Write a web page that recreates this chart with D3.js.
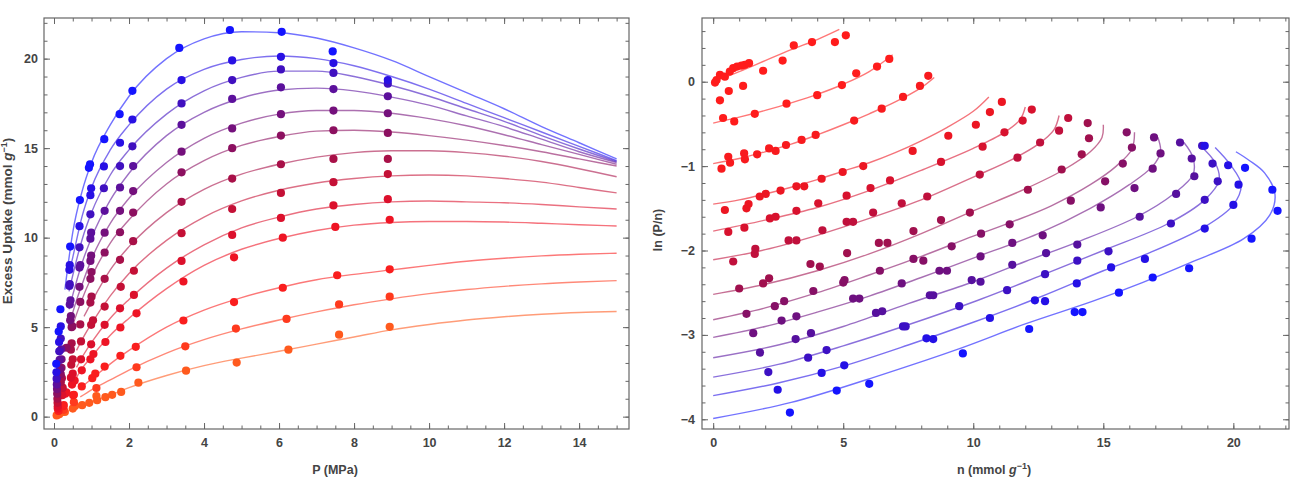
<!DOCTYPE html>
<html>
<head>
<meta charset="utf-8">
<title>Excess uptake isotherms</title>
<script src="https://cdn.jsdelivr.net/npm/d3@7"></script>
<style>
  body { margin: 0; background: #fff; }
  text { font-family: "Liberation Sans", Arial, sans-serif; }
</style>
</head>
<body>
<script>
// series run from the warmest isotherm (k0, lowest uptake) to the coldest (k12)
var dotColorsLeft = ["#ff5a1e","#ff3a1e","#fa1e1e","#ee1424","#dc102c","#c41036","#a81048",
                     "#8c1060","#74107c","#5c109c","#4010c0","#2810e4","#1414ff"];
var dotColorsRight = ["#ff1c1c","#ff1c1c","#f81a1e","#ec1622","#d8122e","#c0103c","#a0104e",
                      "#861066","#6e1080","#56109e","#3c10c4","#2410e6","#1414ff"];

// left panel: fitted curves, [P (MPa), excess uptake (mmol/g)]
var uptakeFits = [
  [[0.65,0.55],[1,0.8],[1.5,1.2],[2,1.62],[3,2.3],[4,2.85],[5,3.27],[6,3.65],[7,4.05],[8,4.45],[9,4.85],[10,5.15],[11,5.4],[12,5.58],[13,5.72],[14,5.82],[15,5.87]],
  [[0.7,1.1],[1,1.5],[1.5,2.05],[2,2.6],[3,3.55],[4,4.3],[5,4.9],[6,5.4],[7,5.85],[8,6.25],[9,6.58],[10,6.87],[11,7.1],[12,7.28],[13,7.42],[14,7.52],[15,7.6]],
  [[0.7,1.6],[1,2.1],[1.5,2.95],[2,3.7],[3,5.0],[4,5.95],[5,6.65],[6,7.2],[7,7.65],[8,7.95],[9,8.2],[10,8.45],[11,8.68],[12,8.85],[13,8.98],[14,9.07],[15,9.13]],
  [[0.6,2.2],[0.75,2.7],[1,3.35],[1.5,4.55],[2,5.5],[3,7.15],[4,8.45],[5,9.35],[6,9.95],[7,10.4],[8,10.7],[9,10.85],[10,10.9],[11,10.9],[12,10.87],[13,10.8],[14,10.72],[15,10.65]],
  [[0.6,2.75],[0.8,3.5],[1,4.15],[1.5,5.5],[2,6.55],[3,8.3],[4,9.6],[5,10.55],[6,11.15],[7,11.6],[8,11.85],[9,12.0],[10,12.05],[11,12.0],[12,11.95],[13,11.85],[14,11.72],[15,11.6]],
  [[0.6,3.7],[0.8,4.5],[1,5.2],[1.5,6.75],[2,8.0],[3,9.85],[4,11.15],[5,12.05],[6,12.65],[7,13.05],[8,13.3],[9,13.45],[10,13.5],[11,13.45],[12,13.3],[13,13.1],[14,12.8],[15,12.5]],
  [[0.8,5.6],[1,6.4],[1.5,8.2],[2,9.5],[3,11.4],[4,12.7],[5,13.55],[6,14.1],[7,14.5],[8,14.75],[9,14.85],[10,14.85],[11,14.75],[12,14.55],[13,14.25],[14,13.85],[15,13.4]],
  [[0.45,4.8],[0.7,6.3],[1,7.8],[1.5,9.7],[2,11.0],[3,13.0],[4,14.3],[5,15.15],[6,15.65],[7,15.95],[8,16.0],[9,15.9],[10,15.7],[11,15.45],[12,15.15],[13,14.8],[14,14.4],[15,14.0]],
  [[0.4,5.1],[0.6,6.5],[0.75,7.4],[1,8.8],[1.5,10.8],[2,12.2],[3,14.2],[4,15.55],[5,16.4],[6,16.9],[7,17.1],[8,17.1],[9,16.95],[10,16.65],[11,16.25],[12,15.75],[13,15.2],[14,14.65],[15,14.1]],
  [[0.4,6.0],[0.5,6.8],[0.75,8.6],[1,10.0],[1.5,12.1],[2,13.6],[3,15.7],[4,17.0],[5,17.8],[6,18.25],[7,18.35],[8,18.2],[9,17.85],[10,17.4],[11,16.8],[12,16.2],[13,15.5],[14,14.8],[15,14.2]],
  [[0.4,7.0],[0.5,7.9],[0.75,9.9],[1,11.4],[1.5,13.5],[2,14.9],[3,16.9],[4,18.2],[5,18.95],[6,19.3],[7,19.3],[8,19.0],[9,18.5],[10,17.9],[11,17.2],[12,16.5],[13,15.7],[14,14.95],[15,14.25]],
  [[0.4,8.0],[0.5,8.9],[0.75,11.2],[1,12.8],[1.5,14.9],[2,16.3],[3,18.3],[4,19.4],[5,19.95],[6,20.15],[7,20.0],[8,19.6],[9,19.0],[10,18.3],[11,17.5],[12,16.7],[13,15.9],[14,15.1],[15,14.3]],
  [[0.29,7.1],[0.5,10.3],[0.75,12.6],[1,14.2],[1.5,16.3],[2,17.9],[3,20.0],[4,21.1],[5,21.5],[6,21.45],[7,21.15],[8,20.6],[9,19.9],[10,19.0],[11,18.1],[12,17.2],[13,16.2],[14,15.3],[15,14.4]]
];

// left panel: measured points, [P, uptake]
var uptakeData = [
  [[0.07,0.07],[0.14,0.13],[0.22,0.26],[0.29,0.26],[0.5,0.45],[0.56,0.6],[0.75,0.64],[0.94,0.77],[1.13,1.15],[1.15,0.92],[1.37,1.09],[1.55,1.22],[1.79,1.38],[2.25,1.9],[3.52,2.57],[4.87,3.02],[6.25,3.74],[7.6,4.58],[8.95,5.02]],
  [[0.26,0.38],[0.53,0.81],[1.13,1.6],[2.2,2.76],[3.5,3.93],[4.85,4.92],[6.2,5.46],[7.6,6.27],[8.95,6.7]],
  [[0.12,0.32],[0.25,0.58],[0.26,0.65],[0.51,1.2],[0.53,1.22],[0.74,1.69],[1.02,2.15],[1.1,2.4],[1.35,2.8],[1.77,3.4],[2.18,3.9],[3.45,5.37],[4.8,6.4],[6.1,7.2],[7.55,7.9],[8.95,8.23]],
  [[0.1,0.45],[0.3,1.28],[0.33,1.36],[0.48,1.79],[0.55,2.02],[0.74,2.59],[0.97,3.2],[1.05,3.5],[1.37,4.17],[1.77,4.98],[2.2,5.77],[3.45,7.55],[4.8,8.9],[6.1,10.0],[7.5,10.6],[8.95,11.0]],
  [[0.1,0.58],[0.22,1.2],[0.45,2.18],[0.5,2.4],[0.72,3.2],[0.99,4.04],[1.35,5.13],[1.76,6.05],[2.13,6.8],[3.4,8.7],[4.75,10.15],[6.05,11.1],[7.45,11.8],[8.9,12.15]],
  [[0.095,0.77],[0.22,1.6],[0.23,1.62],[0.46,2.9],[0.5,3.2],[0.72,4.2],[0.99,5.13],[1.04,5.38],[1.35,6.15],[1.78,7.25],[2.13,8.15],[3.4,10.25],[4.75,11.6],[6.05,12.5],[7.45,13.1],[8.9,13.55]],
  [[0.09,1.0],[0.18,1.92],[0.21,2.15],[0.45,3.74],[0.47,4.1],[0.7,5.15],[0.97,6.37],[1.0,6.7],[1.35,7.7],[1.76,8.76],[2.11,9.8],[3.4,12.0],[4.75,13.3],[6.05,14.1],[7.45,14.4],[8.9,14.4]],
  [[0.085,1.28],[0.18,2.37],[0.2,2.73],[0.33,3.85],[0.47,5.0],[0.49,5.05],[0.7,6.41],[0.97,7.7],[1.0,8.08],[1.35,9.17],[1.76,10.3],[2.11,11.4],[3.4,13.65],[4.75,15.0],[6.05,15.7],[7.45,16.0],[8.9,15.85]],
  [[0.08,1.54],[0.16,2.63],[0.2,3.2],[0.43,5.38],[0.45,5.62],[0.68,7.25],[0.97,8.7],[0.99,8.99],[1.35,10.28],[1.76,11.5],[2.11,12.6],[3.4,14.8],[4.75,16.1],[6.05,16.9],[7.45,17.1],[8.9,16.95]],
  [[0.075,1.8],[0.15,3.17],[0.19,3.76],[0.42,6.26],[0.44,6.5],[0.68,8.33],[0.7,8.46],[0.97,9.94],[0.99,10.28],[1.35,11.5],[1.76,12.8],[2.11,14.0],[3.4,16.3],[4.75,17.75],[6.05,18.4],[7.45,18.3],[8.9,17.9]],
  [[0.07,2.12],[0.14,3.65],[0.18,4.36],[0.41,7.3],[0.42,7.4],[0.68,9.46],[0.97,11.3],[1.33,12.76],[1.76,14.0],[2.09,15.1],[3.4,17.5],[4.75,18.8],[6.05,19.4],[7.45,19.2],[8.9,18.6]],
  [[0.065,2.48],[0.135,4.17],[0.18,5.04],[0.41,8.2],[0.42,8.46],[0.68,10.64],[0.97,12.37],[0.99,12.76],[1.33,13.98],[1.76,15.3],[2.09,16.6],[3.4,18.8],[4.75,19.9],[6.05,20.1],[7.45,19.75],[8.9,18.8]],
  [[0.06,2.95],[0.125,4.75],[0.17,6.0],[0.43,9.5],[0.69,12.1],[0.93,13.9],[0.96,14.1],[1.34,15.5],[1.75,16.9],[2.09,18.2],[3.34,20.6],[4.69,21.6],[6.07,21.5],[7.43,20.4]]
];

// right panel: fitted curves, [n (mmol/g), ln(P/n)]
var lnFits = [
  [[0,0.0],[1,0.12],[2,0.25],[3,0.38],[4,0.5],[4.85,0.62]],
  [[0,-0.49],[1,-0.42],[2,-0.34],[3,-0.25],[4,-0.15],[5,-0.03],[6,0.12],[6.9,0.32]],
  [[0,-0.97],[1,-0.91],[2,-0.83],[3,-0.74],[4,-0.63],[5,-0.51],[6,-0.38],[7,-0.24],[8,-0.07],[8.5,0.05]],
  [[0,-1.45],[1,-1.4],[2,-1.33],[3,-1.25],[4,-1.16],[5,-1.06],[6,-0.96],[7,-0.84],[8,-0.7],[9,-0.54],[10,-0.35],[10.6,-0.18]],
  [[0,-1.77],[2,-1.64],[4,-1.49],[6,-1.29],[8,-1.05],[10,-0.79],[11.2,-0.6],[11.8,-0.45],[12.0,-0.3]],
  [[0,-2.11],[2,-1.99],[4,-1.82],[6,-1.62],[8,-1.4],[10,-1.13],[11.5,-0.92],[12.5,-0.74],[13.1,-0.57],[13.3,-0.4]],
  [[0,-2.52],[2,-2.4],[4,-2.24],[6,-2.04],[8,-1.8],[10,-1.53],[12,-1.27],[13.5,-1.04],[14.5,-0.83],[14.95,-0.66],[15.0,-0.51]],
  [[0,-2.82],[2,-2.68],[4,-2.5],[6,-2.29],[8,-2.07],[10,-1.83],[11.5,-1.66],[13,-1.47],[14.5,-1.22],[15.5,-1.0],[16.1,-0.8],[16.2,-0.6]],
  [[0,-3.03],[2,-2.9],[4,-2.73],[6,-2.54],[8,-2.32],[10,-2.09],[12.5,-1.8],[14.5,-1.5],[16,-1.22],[16.9,-1.0],[17.2,-0.83],[17.1,-0.66]],
  [[0,-3.27],[2.5,-3.12],[5,-2.9],[7.5,-2.63],[10,-2.37],[12,-2.13],[14,-1.9],[16.3,-1.6],[17.7,-1.33],[18.45,-1.1],[18.45,-0.9],[18.1,-0.72]],
  [[0,-3.5],[2.5,-3.35],[5,-3.13],[7.5,-2.88],[10,-2.61],[12.5,-2.31],[15,-2.0],[17.5,-1.68],[18.9,-1.4],[19.45,-1.17],[19.3,-0.96],[18.7,-0.75]],
  [[0,-3.72],[2.5,-3.57],[5,-3.37],[7.5,-3.12],[10,-2.85],[12.5,-2.56],[15,-2.24],[16.6,-2.05],[18.9,-1.72],[20.0,-1.46],[20.3,-1.22],[19.9,-0.99],[19.3,-0.78]],
  [[0,-3.99],[3,-3.8],[6.5,-3.47],[9.5,-3.16],[12,-2.87],[14.6,-2.6],[16.5,-2.38],[18.3,-2.15],[20.4,-1.86],[21.4,-1.58],[21.6,-1.33],[21.2,-1.08],[20.6,-0.93],[20.1,-0.83]]
];

// right panel: measured points, [n, ln(P/n)]
var lnData = [
  [[0.07,-0.01],[0.13,0.02],[0.26,0.08],[0.45,0.06],[0.64,0.12],[0.77,0.16],[0.92,0.18],[1.09,0.19],[1.22,0.2],[1.38,0.22],[0.26,-0.22],[0.6,-0.11],[1.15,-0.05],[1.92,0.13],[2.67,0.25],[3.1,0.43],[3.8,0.47],[4.68,0.47],[5.1,0.55]],
  [[0.38,-0.43],[0.81,-0.47],[1.6,-0.38],[2.82,-0.26],[4.0,-0.16],[4.95,-0.04],[5.5,0.1],[6.3,0.18],[6.77,0.27]],
  [[0.32,-1.03],[0.58,-0.89],[0.65,-0.96],[1.19,-0.85],[1.22,-0.92],[1.69,-0.86],[2.15,-0.79],[2.4,-0.82],[2.8,-0.75],[3.4,-0.69],[3.94,-0.63],[5.42,-0.46],[6.48,-0.32],[7.3,-0.18],[7.95,-0.05],[8.27,0.07]],
  [[0.45,-1.52],[1.28,-1.5],[1.36,-1.45],[1.79,-1.36],[2.02,-1.33],[2.59,-1.29],[3.2,-1.24],[3.5,-1.24],[4.17,-1.15],[4.98,-1.07],[5.77,-1.0],[7.67,-0.82],[9.04,-0.64],[10.1,-0.51],[10.64,-0.36],[11.1,-0.24]],
  [[0.58,-1.78],[1.2,-1.73],[2.18,-1.62],[2.4,-1.6],[3.2,-1.53],[4.04,-1.44],[5.13,-1.35],[6.05,-1.26],[6.8,-1.17],[8.76,-0.95],[10.36,-0.77],[11.2,-0.6],[11.9,-0.46],[12.25,-0.33]],
  [[0.77,-2.13],[1.6,-2.04],[1.62,-1.98],[2.9,-1.88],[3.2,-1.88],[4.2,-1.76],[5.13,-1.66],[5.38,-1.66],[6.15,-1.55],[7.25,-1.44],[8.23,-1.36],[10.25,-1.1],[11.7,-0.9],[12.57,-0.72],[13.3,-0.58],[13.65,-0.43]],
  [[1.0,-2.45],[1.92,-2.39],[2.15,-2.33],[3.74,-2.16],[4.1,-2.19],[5.15,-2.03],[6.37,-1.91],[6.7,-1.91],[7.7,-1.77],[8.76,-1.64],[9.87,-1.55],[12.1,-1.28],[13.4,-1.04],[14.17,-0.86],[14.45,-0.67],[14.4,-0.49]],
  [[1.28,-2.75],[2.37,-2.66],[2.73,-2.6],[3.85,-2.48],[5.0,-2.38],[5.05,-2.35],[6.41,-2.24],[7.7,-2.1],[8.08,-2.12],[9.17,-1.95],[10.3,-1.8],[11.4,-1.69],[13.75,-1.41],[15.07,-1.18],[15.75,-0.97],[16.1,-0.78],[15.9,-0.6]],
  [[1.54,-2.98],[2.63,-2.83],[3.2,-2.78],[5.38,-2.57],[5.62,-2.57],[7.25,-2.39],[8.7,-2.24],[8.99,-2.24],[10.28,-2.07],[11.5,-1.91],[12.67,-1.82],[14.9,-1.49],[16.2,-1.26],[16.9,-1.03],[17.2,-0.85],[16.95,-0.66]],
  [[1.8,-3.21],[3.17,-3.05],[3.76,-2.98],[6.26,-2.74],[6.5,-2.72],[8.33,-2.53],[8.46,-2.53],[9.94,-2.35],[10.28,-2.37],[11.5,-2.17],[12.8,-2.03],[14.0,-1.93],[16.4,-1.6],[17.8,-1.33],[18.5,-1.12],[18.4,-0.91],[17.95,-0.72]],
  [[2.12,-3.44],[3.65,-3.27],[4.36,-3.18],[7.3,-2.9],[7.4,-2.9],[9.46,-2.66],[11.3,-2.47],[12.76,-2.28],[14.0,-2.12],[15.2,-2.01],[17.6,-1.68],[18.9,-1.4],[19.4,-1.18],[19.2,-0.97],[18.8,-0.76]],
  [[2.48,-3.65],[4.17,-3.45],[5.04,-3.36],[8.2,-3.04],[8.46,-3.05],[10.64,-2.8],[12.37,-2.59],[12.76,-2.6],[13.98,-2.39],[15.3,-2.2],[16.6,-2.1],[18.9,-1.74],[20.0,-1.46],[20.2,-1.22],[19.8,-0.99],[18.9,-0.76]],
  [[2.95,-3.92],[4.75,-3.66],[6.0,-3.58],[9.6,-3.22],[12.15,-2.93],[13.9,-2.73],[14.2,-2.73],[15.6,-2.5],[16.9,-2.32],[18.3,-2.21],[20.7,-1.86],[21.7,-1.53],[21.5,-1.28],[20.45,-1.02]]
];

var pTicks = [0, 2, 4, 6, 8, 10, 12, 14];
var uptakeTicks = [0, 5, 10, 15, 20];
var nTicks = [0, 5, 10, 15, 20];
var lnTicks = [0, -1, -2, -3, -4];

var width = 1303, height = 498;
var svg = d3.select("body").append("svg")
    .attr("width", width)
    .attr("height", height);

function framedPanel(x, y, opts) {
  var g = svg.append("g");
  var x0 = x.range()[0], x1 = x.range()[1];
  var y0 = y.range()[1], y1 = y.range()[0];

  function style(sel) {
    sel.select(".domain").remove();
    sel.selectAll(".tick line").attr("stroke", "#666").attr("stroke-width", 1);
    sel.selectAll(".tick text")
      .attr("fill", "#444")
      .attr("font-size", 12.5)
      .attr("font-weight", "bold")
      .attr("font-family", "Liberation Sans, Arial, sans-serif");
  }

  // minor ticks on all four sides, pointing inward
  g.append("g").attr("transform", "translate(0," + y1 + ")")
    .call(d3.axisBottom(x).tickValues(opts.xMinor).tickSize(-3.5).tickFormat("")).call(style);
  g.append("g").attr("transform", "translate(0," + y0 + ")")
    .call(d3.axisTop(x).tickValues(opts.xMinor).tickSize(-3.5).tickFormat("")).call(style);
  g.append("g").attr("transform", "translate(" + x0 + ",0)")
    .call(d3.axisLeft(y).tickValues(opts.yMinor).tickSize(-3.5).tickFormat("")).call(style);
  g.append("g").attr("transform", "translate(" + x1 + ",0)")
    .call(d3.axisRight(y).tickValues(opts.yMinor).tickSize(-3.5).tickFormat("")).call(style);

  // major ticks
  g.append("g").attr("transform", "translate(0," + y1 + ")")
    .call(d3.axisBottom(x).tickValues(opts.xMajor).tickSize(-6).tickPadding(9).tickFormat(d3.format("d"))).call(style);
  g.append("g").attr("transform", "translate(0," + y0 + ")")
    .call(d3.axisTop(x).tickValues(opts.xMajor).tickSize(-6).tickFormat("")).call(style);
  g.append("g").attr("transform", "translate(" + x0 + ",0)")
    .call(d3.axisLeft(y).tickValues(opts.yMajor).tickSize(-6).tickPadding(opts.yPad).tickFormat(d3.format("d"))).call(style);
  g.append("g").attr("transform", "translate(" + x1 + ",0)")
    .call(d3.axisRight(y).tickValues(opts.yMajor).tickSize(-6).tickFormat("")).call(style);

  g.append("rect")
    .attr("x", x0).attr("y", y0)
    .attr("width", x1 - x0).attr("height", y1 - y0)
    .attr("fill", "none")
    .attr("stroke", "#666")
    .attr("stroke-width", 1.2);
  return g;
}

function drawSeries(x, y, fits, data, colors, curve) {
  var line = d3.line()
    .x(function(d) { return x(d[0]); })
    .y(function(d) { return y(d[1]); })
    .curve(curve);

  var lines = svg.append("g");
  fits.forEach(function(f, i) {
    lines.append("path")
      .attr("d", line(f))
      .attr("fill", "none")
      .attr("stroke", colors[i])
      .attr("stroke-opacity", 0.6)
      .attr("stroke-width", 1.4);
  });

  var dots = svg.append("g");
  data.forEach(function(s, i) {
    dots.selectAll(null)
      .data(s)
      .enter()
      .append("circle")
      .attr("cx", function(d) { return x(d[0]); })
      .attr("cy", function(d) { return y(d[1]); })
      .attr("r", 4.1)
      .attr("fill", colors[i]);
  });
}

// ----- left panel: excess uptake vs pressure -----
var xP = d3.scaleLinear().domain([-0.267, 15.33]).range([44, 629]);
var yU = d3.scaleLinear().domain([-0.69, 22.27]).range([429, 18]);

framedPanel(xP, yU, {
  xMajor: pTicks, xMinor: d3.range(0, 15.01, 0.5),
  yMajor: uptakeTicks, yMinor: d3.range(0, 22.01, 1),
  yPad: 6
});
drawSeries(xP, yU, uptakeFits, uptakeData, dotColorsLeft, d3.curveMonotoneX);

svg.append("text")
  .attr("x", 335).attr("y", 474)
  .attr("text-anchor", "middle")
  .attr("font-size", 12.5).attr("font-weight", "bold").attr("fill", "#444")
  .text("P (MPa)");

var yl = svg.append("text")
  .attr("transform", "translate(12,221) rotate(-90)")
  .attr("text-anchor", "middle")
  .attr("font-size", 13.5).attr("font-weight", "bold").attr("fill", "#444");
yl.append("tspan").text("Excess Uptake (mmol ");
yl.append("tspan").attr("font-style", "italic").text("g");
yl.append("tspan").attr("font-size", 9).attr("dy", -5).text("\u22121");
yl.append("tspan").attr("dy", 5).text(")");

// ----- right panel: ln(P/n) vs n -----
var xN = d3.scaleLinear().domain([-0.43, 22.14]).range([702, 1289]);
var yL = d3.scaleLinear().domain([-4.115, 0.755]).range([429, 18]);

framedPanel(xN, yL, {
  xMajor: nTicks, xMinor: d3.range(0, 22.01, 1),
  yMajor: lnTicks, yMinor: d3.range(-4, 0.61, 0.2),
  yPad: 7
});
drawSeries(xN, yL, lnFits, lnData, dotColorsRight, d3.curveCatmullRom.alpha(0.5));

var xl = svg.append("text")
  .attr("x", 994).attr("y", 474)
  .attr("text-anchor", "middle")
  .attr("font-size", 12.5).attr("font-weight", "bold").attr("fill", "#444");
xl.append("tspan").text("n (mmol ");
xl.append("tspan").attr("font-style", "italic").text("g");
xl.append("tspan").attr("font-size", 9).attr("dy", -5).text("\u22121");
xl.append("tspan").attr("dy", 5).text(")");

svg.append("text")
  .attr("transform", "translate(662,230) rotate(-90)")
  .attr("text-anchor", "middle")
  .attr("font-size", 12.5).attr("font-weight", "bold").attr("fill", "#444")
  .text("ln (P/n)");
</script>
</body>
</html>
